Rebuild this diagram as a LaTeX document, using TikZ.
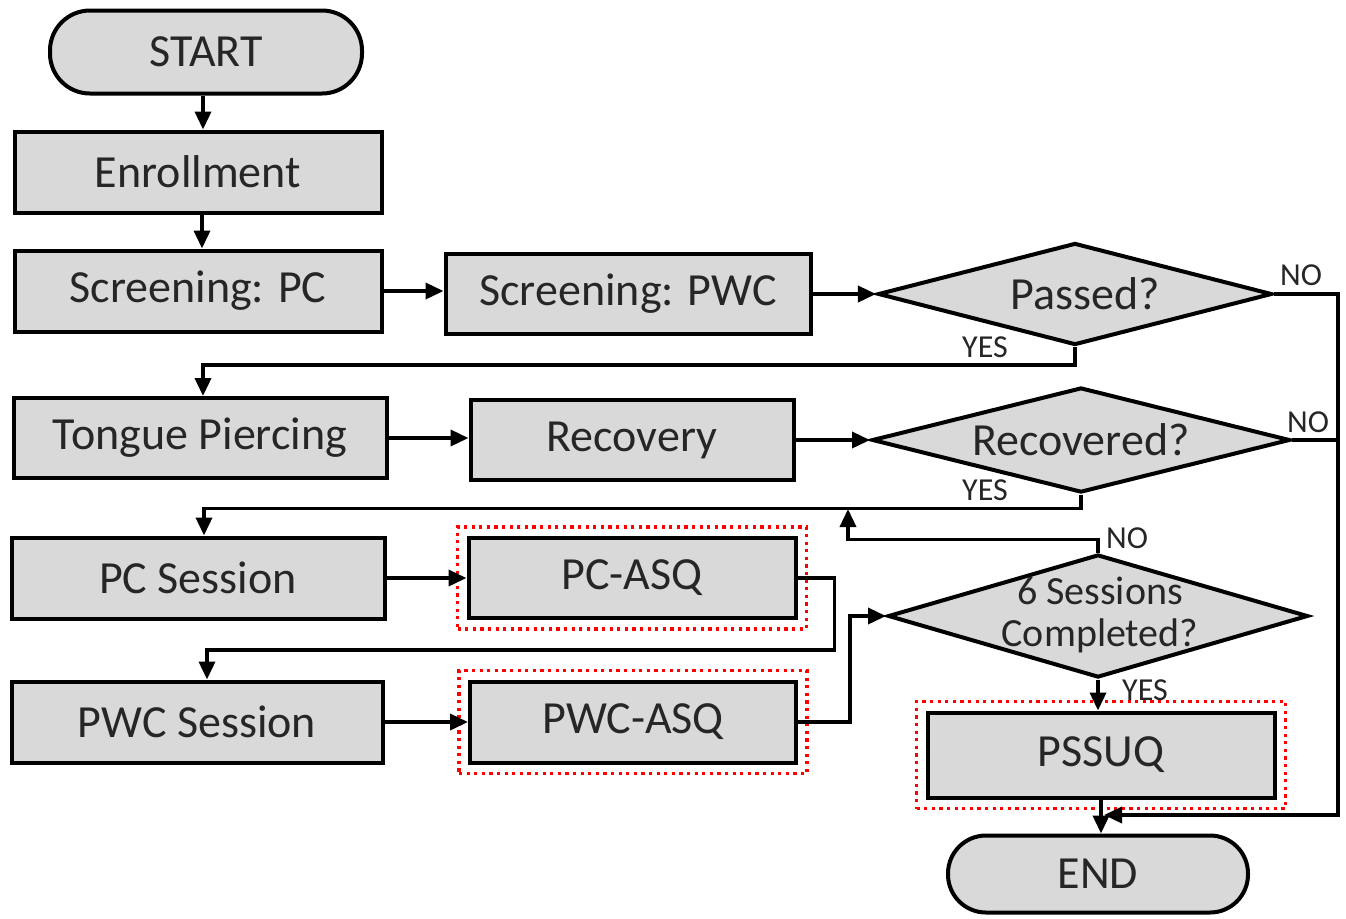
\documentclass[tikz,border=0pt]{standalone}
\usepackage{fontspec}
\setmainfont{Carlito}
\usetikzlibrary{shapes.geometric,arrows.meta,fit,positioning}

\definecolor{boxgray}{HTML}{D9D9D9}
\definecolor{txtgray}{HTML}{262626}

\tikzset{
  box/.style={draw, line width=2pt, fill=boxgray, minimum height=40.5pt,
    inner sep=0pt, text=txtgray, font=\fontsize{23}{27}\selectfont},
  term/.style={box, rounded corners=20pt},
  decision/.style={diamond, draw, line width=2pt, fill=boxgray, inner sep=0pt,
    text=txtgray, font=\fontsize{23}{27}\selectfont},
  redbox/.style={draw=red, line width=1.8pt, dash pattern=on 1.6pt off 2.2pt, inner sep=4.5pt},
  arrow/.style={line width=1.8pt, -{Triangle[length=9pt,width=8pt]}},
  line/.style={line width=1.8pt},
  lbl/.style={inner sep=0pt, text=txtgray, font=\fontsize{16}{18}\selectfont}
}

\begin{document}
\begin{tikzpicture}[x=0.5pt, y=-0.5pt]
        \useasboundingbox (0,0) rectangle (1346,918);

        \node (A) [term, minimum width=156pt, minimum height=41.5pt] at (206,52) {START};
        \node (B) [box, minimum width=183.5pt] at (198,172) {Enrollment};
        \node (C) [box, minimum width=183.5pt] at (198,291) {Screening: PC};
        \node (D) [box, minimum width=182.5pt, minimum height=40pt] at (628,294) {Screening: PWC};
        \node (E) [decision, aspect=3.86, minimum width=197pt, minimum height=51pt] at (1075,294) {\hspace{10pt}Passed?};
        \node (F) [box, minimum width=186.5pt, minimum height=40pt] at (200,438) {Tongue Piercing};
        \node (G) [box, minimum width=161.5pt, minimum height=40pt] at (632,440) {Recovery};
        \node (H) [decision, aspect=3.98, minimum width=209pt, minimum height=52.5pt] at (1081,440) {Recovered?};
        \node (I) [box, minimum width=186.5pt] at (198,578) {PC Session};
        \node (J) [box, minimum width=163.5pt, minimum height=40pt] at (632,578) {PC-ASQ};
        \node (K) [box, minimum width=185.5pt] at (197,722) {PWC Session};
        \node (L) [box, minimum width=163pt] at (633,722) {PWC-ASQ};
        \node (M) [decision, aspect=3.41, minimum width=210pt, minimum height=61.5pt] at (1098,616) {};
        \node (Mt) [align=center, text=txtgray, font=\fontsize{20}{21}\selectfont] at (1100,615) {6 Sessions\\Completed?};
        \node (N) [box, minimum width=173.5pt, minimum height=42.5pt] at (1101,755) {PSSUQ};
        \node (O) [term, minimum width=150pt, minimum height=38.5pt, rounded corners=19pt] at (1098,874) {END};

        % red frames
        \node (Jf) [redbox, fit=(J)] {};
        \node (Lf) [redbox, fit=(L)] {};
        \node (Nf) [redbox, fit=(N)] {};

        \coordinate (X) at (1338,815);
        \coordinate (Y) at (1104,815);
        \coordinate (P) at (848,509);

        \draw[arrow] ([xshift=-1.5pt]A.south) -- ([xshift=-1.5pt]A.south |- B.north);
        \draw[arrow] ([xshift=2pt]B.south) -- ([xshift=2pt]B.south |- C.north);
        \draw[arrow] (C.east) -- (C.east -| D.west);
        \path[arrow] (D) edge (E);
        \draw[arrow] (E.south) -- ++(0,18) -| ([xshift=1.5pt]F.north);
        \draw[arrow] (E.east) -| (X) -- (Y);
        %
        \draw[arrow] (F.east) -- (F.east -| G.west);
        \path[arrow] (G) edge (H);
        \draw[line] (H.east) -- (H.east -| X);
        \draw[arrow] (H.south) -- ++(0,14) -| ([xshift=3pt]I.north);
        %
        \path[arrow] (I) edge (J);
        \draw[arrow] (J.east) -| ++(37,72) -| ([xshift=5pt]K.north);
        \path[arrow] (K) edge (L);
        \draw[arrow] (L.east) -- ++(52,0) |- (M.west);
        \draw[arrow] (M.north) -- ++(0,-13) -| (P);
        \draw[arrow] (M.south) -- (M.south |- N.north);
        \draw[arrow] (N.south) -- (N.south |- O.north);

        % labels
        \node (n1) [lbl] at (1301,275) {NO};
        \node (y1) [lbl] at (985,347) {YES};
        \node (n2) [lbl] at (1308,422) {NO};
        \node (y2) [lbl] at (985,490) {YES};
        \node (n3) [lbl] at (1127,538) {NO};
        \node (y3) [lbl] at (1145,690) {YES};
    \end{tikzpicture}
\end{document}
